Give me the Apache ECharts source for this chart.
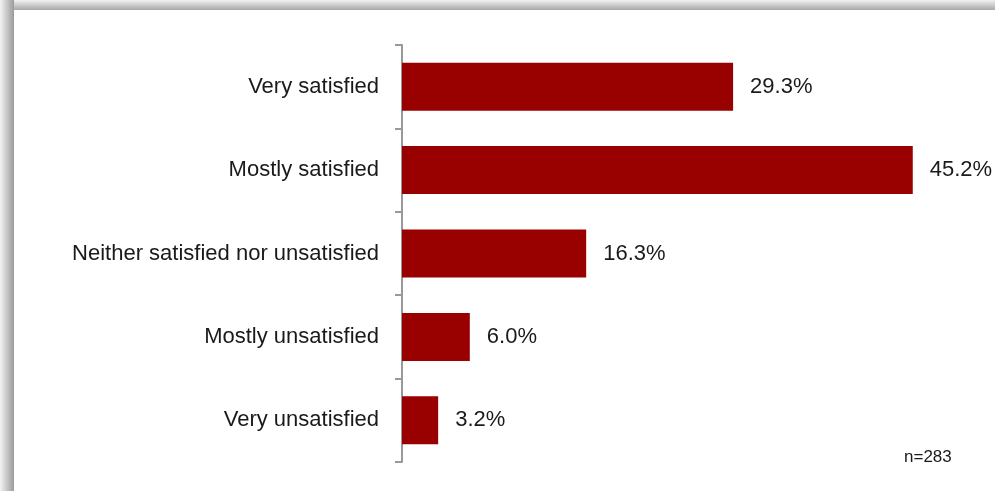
<!DOCTYPE html>
<html>
<head>
<meta charset="utf-8">
<script src="https://cdn.jsdelivr.net/npm/echarts@6/dist/echarts.min.js"></script>
<style>
  html, body { margin: 0; padding: 0; background: #fff; }
  #chart { width: 995px; height: 491px; }
</style>
</head>
<body>
<div id="chart"></div>
<script>
// satisfaction categories, top to bottom
const categories = [
    'Very satisfied',
    'Mostly satisfied',
    'Neither satisfied nor unsatisfied',
    'Mostly unsatisfied',
    'Very unsatisfied'
];
const shares = [29.3, 45.2, 16.3, 6.0, 3.2];
const sampleNote = 'n=283';

const FONT = '"Liberation Sans Narrow", "Arial Narrow", "Liberation Sans", sans-serif';

const chart = echarts.init(document.getElementById('chart'));

chart.setOption({
    animation: false,
    backgroundColor: '#fff',
    grid: { left: 402, right: 28, top: 45, bottom: 29, containLabel: false },
    xAxis: {
        type: 'value',
        min: 0,
        max: 50,
        show: false
    },
    yAxis: {
        type: 'category',
        data: categories,
        inverse: true,
        axisLine: { show: true, lineStyle: { color: '#999', width: 2 } },
        axisTick: { show: true, alignWithLabel: false, length: 7, lineStyle: { color: '#999', width: 2 } },
        axisLabel: { color: '#1a1a1a', fontFamily: FONT, fontSize: 22, margin: 23 }
    },
    series: [{
        type: 'bar',
        data: shares,
        barWidth: 48,
        itemStyle: { color: '#990000' },
        label: {
            show: true,
            position: 'right',
            distance: 17,
            color: '#1a1a1a',
            fontFamily: FONT,
            fontSize: 22,
            formatter: p => p.value.toFixed(1) + '%'
        }
    }],
    graphic: [
        // shadowed frame on left and top
        {
            type: 'rect', left: 0, top: 0, z: 10,
            shape: { width: 14, height: 491 },
            style: { fill: new echarts.graphic.LinearGradient(0, 0, 1, 0, [
                { offset: 0, color: '#f4f4f4' }, { offset: 1, color: '#9a9a9a' }
            ]) }
        },
        {
            type: 'rect', left: 14, top: 0, z: 10,
            shape: { width: 981, height: 10 },
            style: { fill: new echarts.graphic.LinearGradient(0, 0, 0, 1, [
                { offset: 0, color: '#f2f2f2' }, { offset: 1, color: '#a8a8a8' }
            ]) }
        },
        {
            type: 'text', left: 904, top: 449, z: 10,
            style: { text: sampleNote, fontFamily: FONT, fontSize: 17, fill: '#1a1a1a' }
        }
    ]
});
</script>
</body>
</html>
